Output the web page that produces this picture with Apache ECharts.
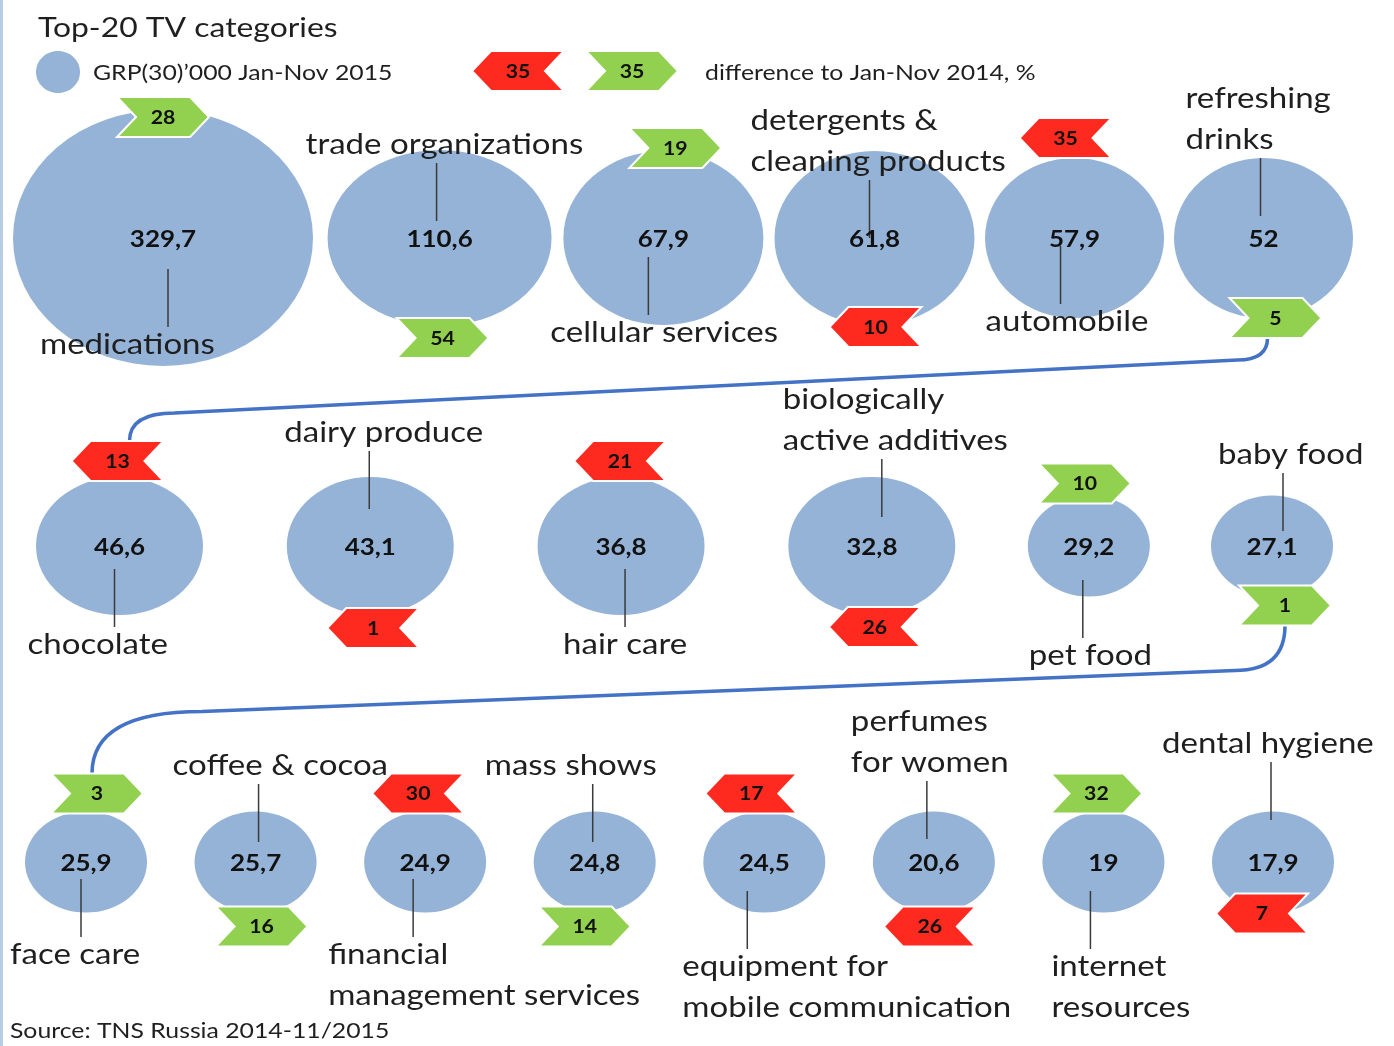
<!DOCTYPE html>
<html><head><meta charset="utf-8">
<script src="https://cdn.jsdelivr.net/npm/echarts@6/dist/echarts.min.js"></script>
<style>html,body{margin:0;padding:0;background:#fff}#c{width:1394px;height:1046px}</style>
</head><body><div id="c"></div>
<script>
// ---------------- DATA ----------------
const categories = [
  'medications', 'trade organizations', 'cellular services', 'detergents &\ncleaning products', 'automobile', 'refreshing\ndrinks',
  'chocolate', 'dairy produce', 'hair care', 'biologically\nactive additives', 'pet food', 'baby food',
  'face care', 'coffee & cocoa', 'financial\nmanagement services', 'mass shows', 'equipment for\nmobile communication', 'perfumes\nfor women', 'internet\nresources', 'dental hygiene'
];
const grpValues = [329.7, 110.6, 67.9, 61.8, 57.9, 52, 46.6, 43.1, 36.8, 32.8, 29.2, 27.1, 25.9, 25.7, 24.9, 24.8, 24.5, 20.6, 19, 17.9];
const diffValues = [28, 54, 19, -10, -35, 5, -13, -1, -21, -26, 10, 1, 3, 16, -30, 14, -17, -26, 32, -7];
const legendDiff = [-35, 35];

// ---------------- LAYOUT (positions / styles) ----------------
const rowCounts = [6, 6, 8];
const rowBands = [{left: 13, right: 1353, y: 238}, {left: 36, right: 1333, y: 546}, {left: 25, right: 1334, y: 862}];
const badgeOff = [-7, 12, 3, 2, 20, 0, 16, 13, 16, 12, 12, 9, 18, 14, 18, 14, 18, 14, 18, 1];
const badgeDx = [0, 3, 12, 1, -9, 12, -2, 3, -1, 3, -4, 13, 11, 6, -7, -10, -13, -4, -7, -11];
const labelLeft = [-123, -134, -113, -124, -89, -78, -92, -86, -58, -89, -60, -54, -76, -83, -97, -110, -82, -83, -52, -111];
const labelDy = [107, 93, 95, 76, 84, 98, 99, 113, 99, 105, 110, 91, 93, 96, 93, 96, 105, 99, 105, 118];
const leaderDx = [5, -3, -15, -5, -14, -3, -5, -1, 4, 10, -6, 11, -5, 3, -12, -2, -17, -7, -13, -2];
const connectors = [
  {from: 5, to: 6, drop: 22, r1: 30, rise: 28, r2: 45, sdx: -8, edx: 12},
  {from: 11, to: 12, drop: 45, r1: 50, rise: 62, r2: 110, sdx: 0, edx: -5}
];
const BLUE = '#95B3D7', RED = '#FF2A1F', GREEN = '#92D050', TXT = '#1f1f1f';
const FONT = 'Lato, "Open Sans", sans-serif';
const SX = 1.18; // horizontal stretch of the original picture
const BW = 92, BH = 40, BD = 19;

function bubbleSize(v) {
  if (v >= 300) return [300, 256];
  if (v >= 100) return [224, 176];
  if (v >= 60) return [200, 174];
  if (v >= 50) return [179, 160];
  if (v >= 30) return [167, 138];
  return [122, 101];
}
const fmt = v => String(v).replace('.', ',');

const sizes = grpValues.map(bubbleSize);
const pos = [];
(function () {
  let idx = 0;
  rowCounts.forEach((n, r) => {
    const b = rowBands[r];
    const ws = sizes.slice(idx, idx + n).map(s => s[0]);
    let sum = 0;
    for (let j = 0; j < n - 1; j++) sum += (ws[j] + ws[j + 1]) / 2;
    const k = (b.right - b.left - ws[0] / 2 - ws[n - 1] / 2) / sum;
    let x = b.left + ws[0] / 2;
    for (let j = 0; j < n; j++) {
      pos.push([x, b.y]);
      if (j < n - 1) x += k * (ws[j] + ws[j + 1]) / 2;
    }
    idx += n;
  });
})();

function badgeCenter(i) {
  const top = i % 2 === 0;
  const h = sizes[i][1];
  const y = top ? pos[i][1] - h / 2 - badgeOff[i] : pos[i][1] + h / 2 + badgeOff[i];
  return [pos[i][0] + badgeDx[i], y];
}
function badgePoints(cx, cy, up) {
  const l = cx - BW / 2, r = cx + BW / 2, t = cy - BH / 2, b = cy + BH / 2;
  return up ? [[l, t], [r - BD, t], [r, cy], [r - BD, b], [l, b], [l + BD, cy]]
            : [[l, cy], [l + BD, t], [r, t], [r - BD, cy], [r, b], [l + BD, b]];
}
function badgeGroup(c, v) {
  const up = v >= 0;
  return {
    type: 'group',
    children: [
      {type: 'polygon', shape: {points: badgePoints(c[0], c[1], up)}, style: {fill: up ? GREEN : RED, stroke: '#fff', lineWidth: 2}},
      {type: 'text', x: c[0], y: c[1] + 1, scaleX: SX, style: {text: String(Math.abs(v)), font: 'bold 18px ' + FONT, fill: '#111', align: 'center', verticalAlign: 'middle'}}
    ]
  };
}

const chart = echarts.init(document.getElementById('c'), null, {renderer: 'canvas'});
const option = {
  animation: false,
  backgroundColor: '#fff',
  grid: {left: 0, right: 0, top: 0, bottom: 0},
  xAxis: {type: 'value', min: 0, max: 1394, show: false},
  yAxis: {type: 'value', min: 0, max: 1046, inverse: true, show: false},
  graphic: [
    {type: 'rect', left: 0, top: 0, shape: {width: 3, height: 1046}, style: {fill: '#B8CCE4'}},
    {type: 'text', x: 38, y: 28, scaleX: SX, style: {text: 'Top-20 TV categories', font: '27px ' + FONT, fill: TXT, verticalAlign: 'middle'}},
    {type: 'ellipse', shape: {cx: 58, cy: 72, rx: 22, ry: 21}, style: {fill: BLUE}},
    {type: 'text', x: 93, y: 73, scaleX: SX, style: {text: 'GRP(30)\u2019000 Jan-Nov 2015', font: '21px ' + FONT, fill: TXT, verticalAlign: 'middle'}},
    {type: 'text', x: 705, y: 73, scaleX: SX, style: {text: 'difference to Jan-Nov 2014, %', font: '21px ' + FONT, fill: TXT, verticalAlign: 'middle'}},
    {type: 'text', x: 10, y: 1031, scaleX: SX, style: {text: 'Source: TNS Russia 2014-11/2015', font: '21px ' + FONT, fill: TXT, verticalAlign: 'middle'}}
  ],
  series: [
    {
      type: 'custom', name: 'connectors', silent: true, z: 1,
      data: connectors.map((c, i) => [i]),
      renderItem: function (params, api) {
        const c = connectors[params.dataIndex];
        const s0 = badgeCenter(c.from), e0 = badgeCenter(c.to);
        const s = api.coord([s0[0] + c.sdx, s0[1] + BH / 2]);
        const e = api.coord([e0[0] + c.edx, e0[1] - BH / 2]);
        const yA = s[1] + c.drop, yB = e[1] - c.rise;
        const d = 'M' + s[0] + ' ' + s[1] + ' Q' + s[0] + ' ' + yA + ' ' + (s[0] - c.r1) + ' ' + yA +
                  ' L' + (e[0] + c.r2) + ' ' + yB + ' Q' + e[0] + ' ' + yB + ' ' + e[0] + ' ' + e[1];
        return {type: 'path', shape: {pathData: d}, style: {fill: 'none', stroke: '#4472C4', lineWidth: 3.5}};
      }
    },
    {
      type: 'scatter', name: 'GRP', silent: true, z: 2,
      data: grpValues.map((v, i) => [pos[i][0], pos[i][1], v]),
      symbol: 'circle',
      symbolSize: d => bubbleSize(d[2]),
      itemStyle: {color: BLUE, opacity: 1}
    },
    {
      type: 'custom', name: 'labels', silent: true, z: 3,
      data: grpValues.map((v, i) => [pos[i][0], pos[i][1], v]),
      renderItem: function (params, api) {
        const i = params.dataIndex;
        const c = api.coord([api.value(0), api.value(1)]);
        const below = i % 2 === 0;
        const lines = categories[i].split('\n');
        const lh = 41;
        const lx = c[0] + leaderDx[i];
        const end = labelDy[i] - 18, start = end - 58;
        const sgn = below ? 1 : -1;
        const children = [
          {type: 'line', shape: {x1: lx, y1: c[1] + sgn * start, x2: lx, y2: c[1] + sgn * end}, style: {stroke: '#3a3a3a', lineWidth: 1.5}},
          {type: 'text', x: c[0], y: c[1] + 2, scaleX: SX, style: {text: fmt(api.value(2)), font: 'bold 22px ' + FONT, fill: '#111', align: 'center', verticalAlign: 'middle'}}
        ];
        lines.forEach((t, k) => {
          const y = below ? c[1] + labelDy[i] + k * lh : c[1] - labelDy[i] - (lines.length - 1 - k) * lh;
          children.push({type: 'text', x: c[0] + labelLeft[i], y: y, scaleX: SX,
            style: {text: t, font: '28px ' + FONT, fill: TXT, align: 'left', verticalAlign: 'middle'}});
        });
        return {type: 'group', children: children};
      }
    },
    {
      type: 'custom', name: 'difference', silent: true, z: 4,
      data: diffValues.map((v, i) => [i, v]),
      renderItem: function (params, api) {
        const i = params.dataIndex;
        const b = badgeCenter(i);
        return badgeGroup(api.coord(b), api.value(1));
      }
    },
    {
      type: 'custom', name: 'legend', silent: true, z: 4,
      data: legendDiff.map((v, i) => [i, v]),
      renderItem: function (params, api) {
        const i = params.dataIndex;
        const c = api.coord([518 + i * 114, 71]);
        return badgeGroup(c, api.value(1));
      }
    }
  ]
};
chart.setOption(option);
</script>
</body></html>
